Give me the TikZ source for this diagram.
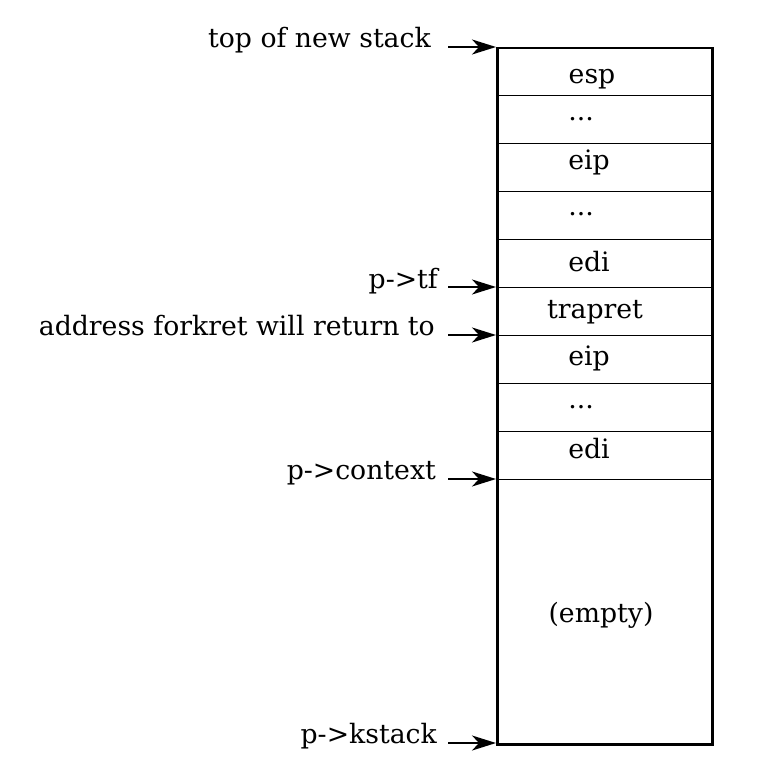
\documentclass[tikz,border=0pt]{standalone}
\usepackage{fontspec}
\setmainfont{DejaVu Serif}
\usetikzlibrary{arrows.meta}
\begin{document}
\begin{tikzpicture}[x=1pt,y=-1pt,
  lbl/.style={anchor=base east,inner sep=0pt,font=\fontsize{26.7}{30}\selectfont},
  cell/.style={anchor=base,inner sep=0pt,font=\fontsize{26.7}{30}\selectfont},
  ptr/.style={line width=2pt,-{Stealth[length=24pt,width=15pt,inset=7pt]}},
  sep/.style={line width=1pt},
  frame/.style={line width=2.5pt}]
\useasboundingbox (0,0) rectangle (757,760);
% stack frame
\node[frame,draw,minimum width=215pt,minimum height=696pt,anchor=north west,inner sep=0pt] (stk) at (496,47) {};
\foreach \yy in {95,143,191,239,287,335,383,431,479}
  \draw[sep] (stk.west |- 0,\yy) -- (stk.east |- 0,\yy);
% cell texts
\node[cell] (c1) at (592,84) {esp};
\node[cell] (c2) at (581,120) {...};
\node[cell] (c3) at (589,169) {eip};
\node[cell] (c4) at (581,215) {...};
\node[cell] (c5) at (589,271) {edi};
\node[cell] (c6) at (595,318) {trapret};
\node[cell] (c7) at (589,365) {eip};
\node[cell] (c8) at (581,408) {...};
\node[cell] (c9) at (589,458) {edi};
\node[cell] (c10) at (601,622) {(empty)};
% labels
\node[lbl] (l1) at (431,48) {top of new stack};
\node[lbl] (l2) at (438,288) {p->tf};
\node[lbl] (l3) at (435,335) {address forkret will return to};
\node[lbl] (l4) at (436,479) {p->context};
\node[lbl] (l5) at (437,743) {p->kstack};
% arrows
\foreach \n/\yy in {1/47,2/287,3/335,4/479,5/743}{
  \coordinate (s\n) at (448,\yy);
  \coordinate (e\n) at (stk.west |- 0,\yy);
  \draw[ptr] (s\n) -- (e\n);
}
\end{tikzpicture}
\end{document}
